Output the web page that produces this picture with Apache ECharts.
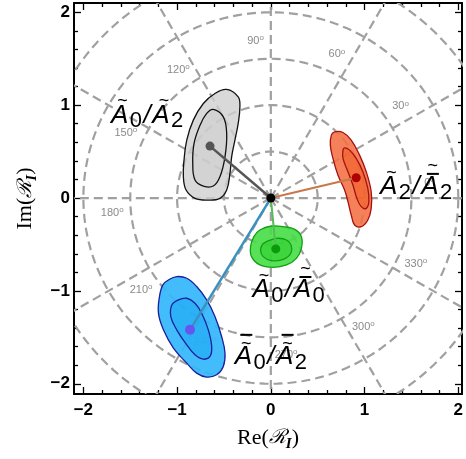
<!DOCTYPE html>
<html><head><meta charset="utf-8">
<script src="https://cdn.jsdelivr.net/npm/echarts@6/dist/echarts.min.js"></script>
<style>html,body{margin:0;padding:0;background:#fff}#c{width:466px;height:459px}</style>
</head><body><div id="c"></div>
<script>
// ---- axis ticks / grid ----
const xTicks = [-2, -1, 0, 1, 2];
const yTicks = [-2, -1, 0, 1, 2];
const ringRadii = [0.5, 1, 1.5, 2, 2.5];
const spokeAngles = [0, 30, 60, 90, 120, 150, 180, 210, 240, 270, 300, 330];
const angleLabels = ['0', '30', '60', '90', '120', '150', '180', '210', '240', '270', '300', '330'];

// ---- contours (Re, Im) ----
const grayOuter = [[-0.471,1.169],[-0.348,1.089],[-0.330,0.982],[-0.348,0.803],[-0.383,0.624],[-0.418,0.444],[-0.436,0.266],[-0.471,0.086],[-0.543,-0.003],[-0.667,-0.022],[-0.809,-0.003],[-0.904,0.086],[-0.933,0.229],[-0.926,0.409],[-0.897,0.624],[-0.827,0.839],[-0.720,1.018],[-0.596,1.126]];
const grayInner = [[-0.614,0.954],[-0.507,0.874],[-0.471,0.696],[-0.489,0.444],[-0.543,0.229],[-0.614,0.129],[-0.720,0.129],[-0.809,0.194],[-0.833,0.373],[-0.819,0.588],[-0.755,0.785],[-0.684,0.911]];
const grayCenter = [-0.649, 0.559];

const orangeOuter = [[0.681,0.713],[0.770,0.706],[0.858,0.624],[0.947,0.462],[1.018,0.283],[1.071,0.068],[1.071,-0.111],[1.035,-0.237],[0.965,-0.308],[0.894,-0.290],[0.858,-0.183],[0.823,-0.039],[0.787,0.086],[0.716,0.247],[0.663,0.427],[0.635,0.570],[0.646,0.677]];
const orangeInner = [[0.787,0.541],[0.840,0.516],[0.911,0.427],[0.982,0.283],[1.035,0.104],[1.046,-0.039],[1.018,-0.111],[0.965,-0.093],[0.918,-0.003],[0.876,0.140],[0.823,0.283],[0.770,0.427],[0.770,0.516]];
const orangeCenter = [0.911, 0.219];

const greenOuter = [[-0.117,-0.344],[0.007,-0.301],[0.131,-0.308],[0.255,-0.337],[0.326,-0.416],[0.326,-0.541],[0.273,-0.649],[0.167,-0.720],[0.025,-0.746],[-0.117,-0.720],[-0.206,-0.631],[-0.216,-0.523],[-0.181,-0.416]];
const greenInner = [[-0.046,-0.470],[0.061,-0.434],[0.167,-0.452],[0.220,-0.523],[0.202,-0.613],[0.114,-0.667],[0.007,-0.674],[-0.082,-0.631],[-0.110,-0.559],[-0.088,-0.498]];
const greenCenter = [0.053, -0.548];

const blueOuter = [[-1.092,-0.882],[-1.004,-0.846],[-0.897,-0.864],[-0.791,-0.953],[-0.684,-1.097],[-0.596,-1.276],[-0.525,-1.491],[-0.489,-1.670],[-0.507,-1.814],[-0.578,-1.903],[-0.684,-1.928],[-0.791,-1.885],[-0.897,-1.778],[-1.039,-1.616],[-1.146,-1.419],[-1.199,-1.240],[-1.188,-1.061],[-1.152,-0.935]];
const blueInner = [[-0.986,-1.097],[-0.897,-1.079],[-0.809,-1.133],[-0.738,-1.240],[-0.667,-1.419],[-0.631,-1.599],[-0.649,-1.706],[-0.720,-1.735],[-0.809,-1.688],[-0.897,-1.581],[-1.004,-1.419],[-1.067,-1.276],[-1.056,-1.151]];
const blueCenter = [-0.862, -1.419];

const origin = [0, 0];

// ---- blob labels: pieces [text, kind, accent] ----
// kind: 'm' main italic, 's' subscript; accent: 't' tilde, 'tb' tilde over bar, 'bt' bar over tilde
const labelGray   = [['A','m','t'], ['0','s'], ['/','m'], ['A','m','t'], ['2','s']];
const labelOrange = [['A','m','t'], ['2','s'], ['/','m'], ['A','m','tb'], ['2','s']];
const labelGreen  = [['A','m','t'], ['0','s'], ['/','m'], ['A','m','tb'], ['0','s']];
const labelBlue   = [['A','m','bt'], ['0','s'], ['/','m'], ['A','m','bt'], ['2','s']];

const X_MIN = -2.1, X_MAX = 2.04, Y_MIN = -2.11, Y_MAX = 2.1;
const minorX = [], minorY = [];
for (let i = -10; i <= 10; i++) { if (i % 5 !== 0) { minorX.push(i / 5); minorY.push(i / 5); } }

const fmt = v => v < 0 ? '\u2212' + Math.abs(v) : String(v);
const GRID_COLOR = '#a0a0a0';

function gridRender(params, api) {
  const children = [];
  ringRadii.forEach(r => {
    const pts = [];
    for (let a = 0; a <= 360; a += 2) {
      const t = a * Math.PI / 180;
      pts.push(api.coord([r * Math.cos(t), r * Math.sin(t)]));
    }
    children.push({ type: 'polyline', shape: { points: pts }, style: { stroke: GRID_COLOR, lineWidth: 2.2, lineDash: [9, 5], fill: null } });
  });
  const o = api.coord([0, 0]);
  spokeAngles.forEach(d => {
    const t = d * Math.PI / 180;
    const e = api.coord([3.2 * Math.cos(t), 3.2 * Math.sin(t)]);
    children.push({ type: 'line', shape: { x1: o[0], y1: o[1], x2: e[0], y2: e[1] }, style: { stroke: GRID_COLOR, lineWidth: 2.2, lineDash: [9, 5] } });
  });
  return { type: 'group', children };
}

function angleLabelRender(params, api) {
  const children = spokeAngles.map((d, i) => {
    const t = (d + 5.5) * Math.PI / 180;
    const p = api.coord([1.7 * Math.cos(t), 1.7 * Math.sin(t)]);
    return { type: 'text', x: p[0], y: p[1], style: {
      text: '{n|' + angleLabels[i] + '}{o|o}', align: 'center', verticalAlign: 'middle',
      rich: { n: { fontFamily: 'Liberation Sans', fontSize: 11, fill: '#8a8a8a', lineHeight: 14 },
              o: { fontFamily: 'Liberation Sans', fontSize: 8, fill: '#8a8a8a', verticalAlign: 'top', lineHeight: 8 } } } };
  });
  return { type: 'group', children };
}

function blobSeries(name, outer, inner, fillOut, fillIn, edge) {
  return { type: 'custom', name, coordinateSystem: 'cartesian2d', data: [[0, 0]], z: 5, silent: true, clip: true,
    renderItem: (p, api) => ({ type: 'group', children: [
      { type: 'polygon', shape: { points: outer.map(pt => api.coord(pt)), smooth: 0.4 }, style: { fill: fillOut, stroke: edge, lineWidth: 1.3 } },
      { type: 'polygon', shape: { points: inner.map(pt => api.coord(pt)), smooth: 0.4 }, style: { fill: fillIn, stroke: edge, lineWidth: 1.3 } }
    ] }) };
}

function raySeries(center, color, width) {
  return { type: 'line', data: [origin, center], symbol: 'none', z: 6, silent: true, lineStyle: { color, width } };
}
function pointSeries(center, color, size) {
  return { type: 'scatter', data: [center], symbolSize: size, z: 7, silent: true, itemStyle: { color, opacity: 1 } };
}

const blobLabels = [
  { pieces: labelGray, at: [-1.32, 0.89] },
  { pieces: labelOrange, at: [1.55, 0.12] },
  { pieces: labelGreen, at: [0.19, -0.99] },
  { pieces: labelBlue, at: [0.0, -1.71] }
];

const MAIN_FONT = 'italic 26px "Liberation Sans"';
const SUB_FONT = '22px "Liberation Sans"';
const measureCtx = document.createElement('canvas').getContext('2d');
function textWidth(t, font) { measureCtx.font = font; return measureCtx.measureText(t).width; }

function blobLabelRender(params, api) {
  const children = [];
  const GAP = 1.5;
  blobLabels.forEach(l => {
    const p = api.coord(l.at);
    const widths = l.pieces.map(pc => textWidth(pc[0], pc[1] === 'm' ? MAIN_FONT : SUB_FONT));
    const total = widths.reduce((a, b) => a + b, 0) + GAP * (widths.length - 1);
    let x = p[0] - total / 2;
    const capTop = p[1] - 10;   // approx top of capital A
    l.pieces.forEach((pc, i) => {
      const isMain = pc[1] === 'm';
      children.push({ type: 'text', x, y: isMain ? p[1] : p[1] + 6, style: {
        text: pc[0], font: isMain ? MAIN_FONT : SUB_FONT, fill: '#000', align: 'left', verticalAlign: 'middle' } });
      const acc = pc[2];
      if (acc) {
        const cx = x + widths[i] / 2 + 3; // italic slant shift
        let tildeY, barY = null;
        if (acc === 't') { tildeY = capTop - 4; }
        else if (acc === 'tb') { barY = capTop - 3; tildeY = capTop - 11; }
        else { tildeY = capTop - 3; barY = capTop - 12; }
        children.push({ type: 'text', x: cx, y: tildeY, style: { text: '~', font: '18px "Liberation Sans"', fill: '#000', align: 'center', verticalAlign: 'middle' } });
        if (barY !== null) {
          children.push({ type: 'rect', shape: { x: cx - 6, y: barY - 1, width: 12, height: 2 }, style: { fill: '#000' } });
        }
      }
      x += widths[i] + GAP;
    });
  });
  return { type: 'group', children };
}

const axisBase = { type: 'value', min: X_MIN, max: X_MAX, splitLine: { show: false } };
const tickStyle = { color: '#000', width: 1.3 };
const lineStyle = { color: '#000', width: 2 };
const labelStyle = { fontFamily: 'Liberation Sans', fontWeight: 'bold', fontSize: 17, color: '#000' };
const nameRich = {
  r: { fontFamily: 'Liberation Serif', fontSize: 22, color: '#000', lineHeight: 28 },
  s: { fontFamily: 'DejaVu Serif', fontStyle: 'italic', fontSize: 20, color: '#000', lineHeight: 28 },
  i: { fontFamily: 'Liberation Serif', fontStyle: 'italic', fontWeight: 'bold', fontSize: 15, color: '#000', verticalAlign: 'bottom', lineHeight: 22 }
};

const option = {
  animation: false,
  backgroundColor: '#fff',
  grid: { left: 74, right: 3, top: 3, bottom: 65, containLabel: false },
  xAxis: [
    { ...axisBase, position: 'bottom', axisLine: { show: true, onZero: false, lineStyle },
      axisTick: { show: true, inside: true, length: 7, customValues: xTicks, lineStyle: tickStyle },
      axisLabel: { show: true, customValues: xTicks, formatter: fmt, margin: 8, ...labelStyle },
      name: '{r|Re(}{s|\u211B}{i|I}{r|)}', nameLocation: 'middle', nameGap: 30, nameTextStyle: { rich: nameRich } },
    { ...axisBase, position: 'bottom', axisLine: { show: false, onZero: false },
      axisTick: { show: true, inside: true, length: 4, customValues: minorX, lineStyle: tickStyle }, axisLabel: { show: false } },
    { ...axisBase, position: 'top', axisLine: { show: true, onZero: false, lineStyle },
      axisTick: { show: true, inside: true, length: 7, customValues: xTicks, lineStyle: tickStyle }, axisLabel: { show: false } },
    { ...axisBase, position: 'top', axisLine: { show: false, onZero: false },
      axisTick: { show: true, inside: true, length: 4, customValues: minorX, lineStyle: tickStyle }, axisLabel: { show: false } }
  ],
  yAxis: [
    { type: 'value', min: Y_MIN, max: Y_MAX, splitLine: { show: false }, position: 'left', axisLine: { show: true, onZero: false, lineStyle },
      axisTick: { show: true, inside: true, length: 7, customValues: yTicks, lineStyle: tickStyle },
      axisLabel: { show: true, customValues: yTicks, formatter: fmt, margin: 4, ...labelStyle },
      name: '{r|Im(}{s|\u211B}{i|I}{r|)}', nameLocation: 'middle', nameGap: 34, nameRotate: 90, nameTextStyle: { rich: nameRich } },
    { type: 'value', min: Y_MIN, max: Y_MAX, splitLine: { show: false }, position: 'left', axisLine: { show: false, onZero: false },
      axisTick: { show: true, inside: true, length: 4, customValues: minorY, lineStyle: tickStyle }, axisLabel: { show: false } },
    { type: 'value', min: Y_MIN, max: Y_MAX, splitLine: { show: false }, position: 'right', axisLine: { show: true, onZero: false, lineStyle },
      axisTick: { show: true, inside: true, length: 7, customValues: yTicks, lineStyle: tickStyle }, axisLabel: { show: false } },
    { type: 'value', min: Y_MIN, max: Y_MAX, splitLine: { show: false }, position: 'right', axisLine: { show: false, onZero: false },
      axisTick: { show: true, inside: true, length: 4, customValues: minorY, lineStyle: tickStyle }, axisLabel: { show: false } }
  ],
  series: [
    { type: 'custom', name: 'polar grid', coordinateSystem: 'cartesian2d', data: [[0, 0]], z: 1, silent: true, clip: true, renderItem: gridRender },
    { type: 'custom', name: 'angle labels', coordinateSystem: 'cartesian2d', data: [[0, 0]], z: 2, silent: true, clip: true, renderItem: angleLabelRender },
    blobSeries('A0/A2', grayOuter, grayInner, 'rgba(208,208,208,0.8)', 'rgba(205,205,205,0.45)', '#111'),
    blobSeries('A2/A2bar', orangeOuter, orangeInner, 'rgba(242,112,66,0.88)', 'rgba(240,90,30,0.5)', '#a81010'),
    blobSeries('A0/A0bar', greenOuter, greenInner, 'rgba(70,222,70,0.9)', 'rgba(30,200,30,0.45)', '#10a010'),
    blobSeries('A0/A2bar', blueOuter, blueInner, 'rgba(50,182,250,0.92)', 'rgba(15,160,240,0.4)', '#1a1f9c'),
    raySeries(grayCenter, '#555555', 2.5),
    raySeries(orangeCenter, '#c87848', 2),
    raySeries(greenCenter, '#55bb55', 2),
    raySeries(blueCenter, '#3a90c0', 2.5),
    pointSeries(grayCenter, '#555555', 9),
    pointSeries(orangeCenter, '#b00000', 9),
    pointSeries(greenCenter, '#0a9a0a', 9),
    pointSeries(blueCenter, '#6655ee', 10),
    pointSeries(origin, '#000000', 9),
    { type: 'custom', name: 'labels', coordinateSystem: 'cartesian2d', data: [[0, 0]], z: 10, silent: true, renderItem: blobLabelRender }
  ]
};
const chart = echarts.init(document.getElementById('c'), null, { renderer: 'canvas' });
chart.setOption(option);
</script></body></html>
